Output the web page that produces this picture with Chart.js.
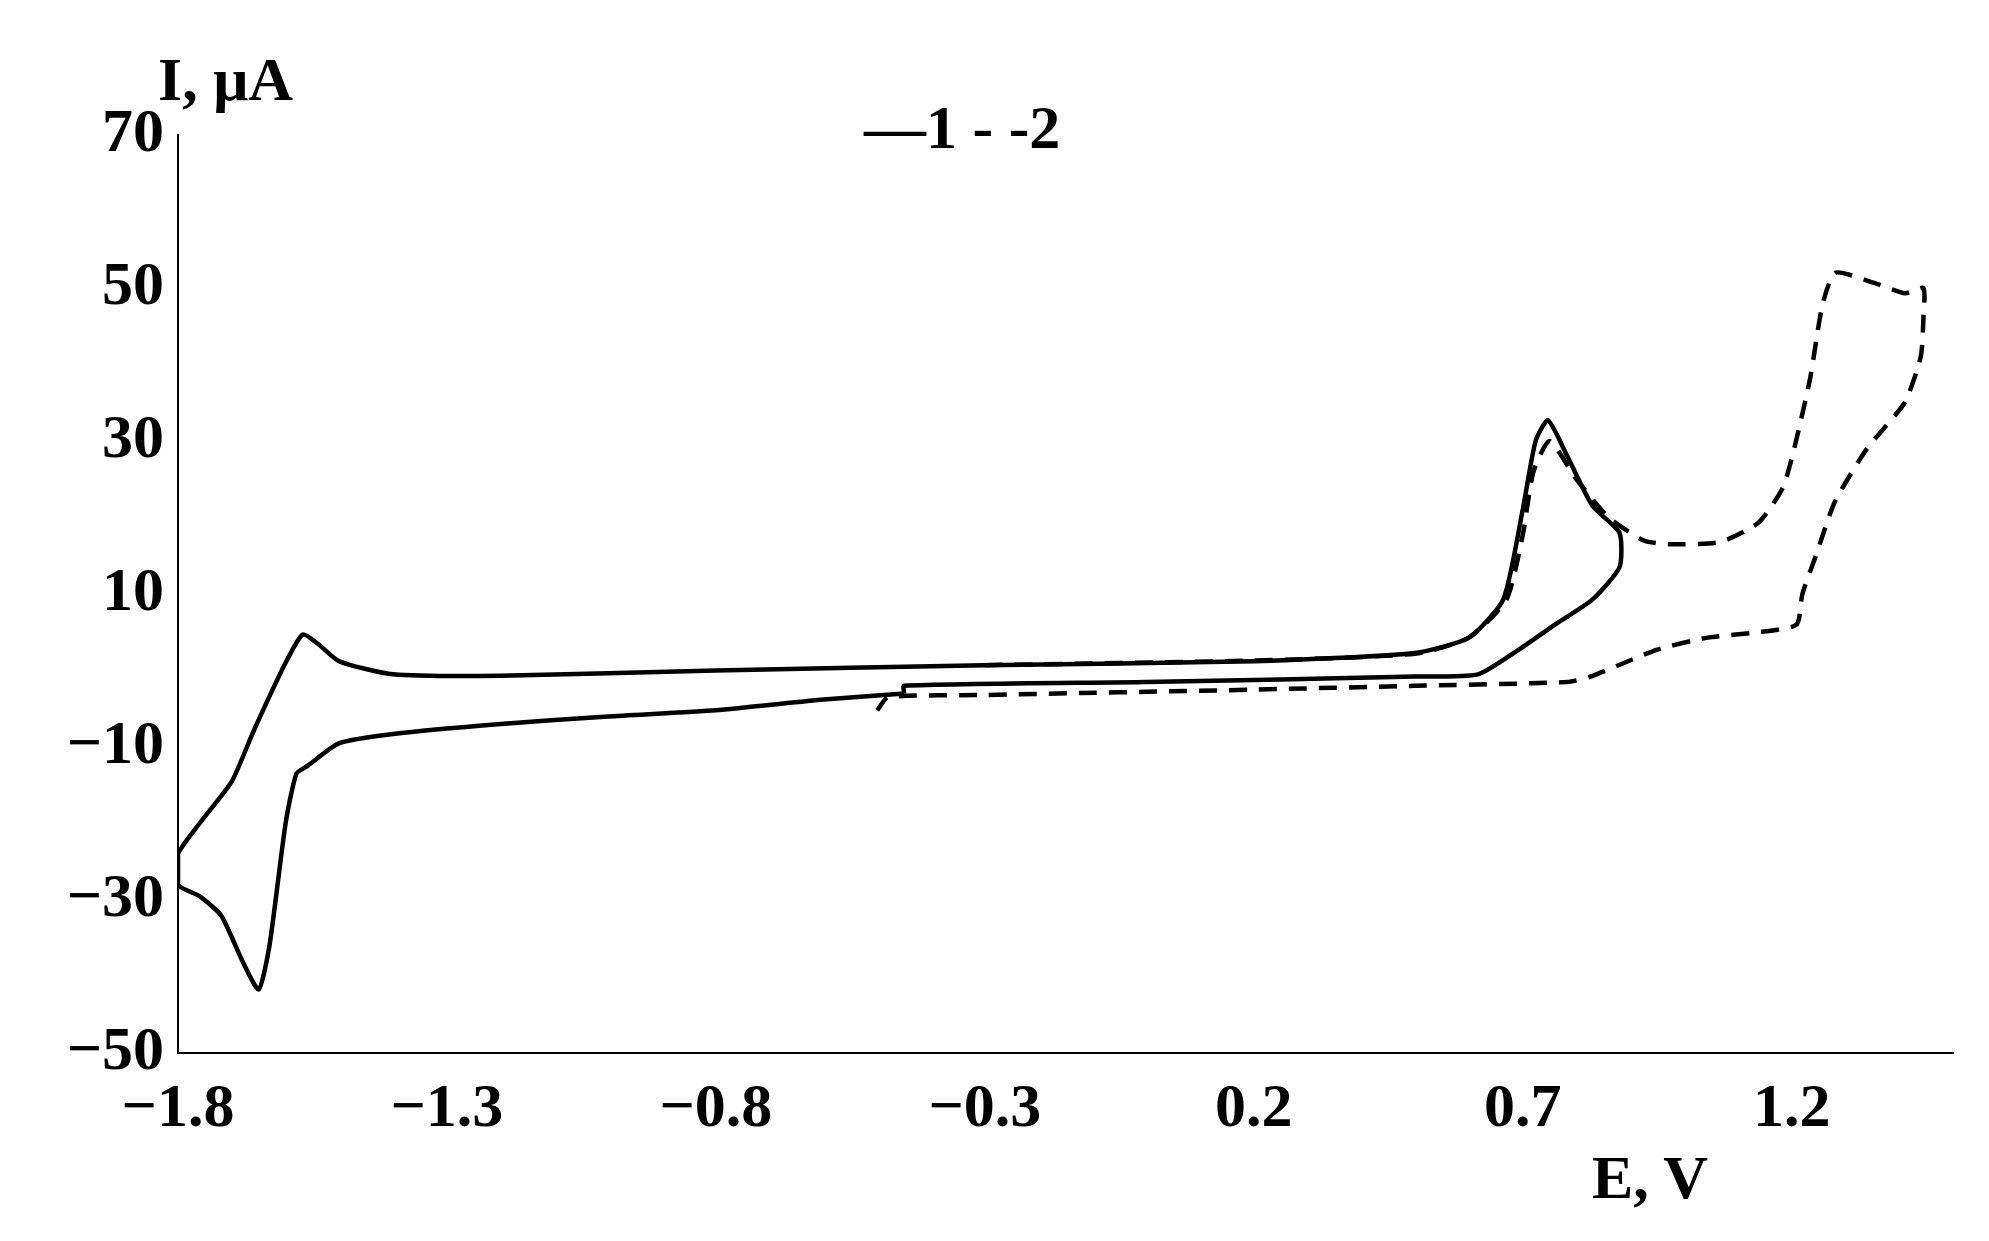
<!DOCTYPE html>
<html>
<head>
<meta charset="utf-8">
<script src="https://cdn.jsdelivr.net/npm/chart.js@4"></script>
<style>
  body { margin: 0; background: #fff; }
  #wrap { position: relative; width: 1989px; height: 1241px; }
  .lbl { position: absolute; font: bold 62px "Liberation Serif", serif; color: #000; white-space: nowrap; }
</style>
</head>
<body>
<div id="wrap">
  <canvas id="cv" width="1989" height="1241"></canvas>
  <div class="lbl" style="left:158px;top:44px">I, μA</div>
  <div class="lbl" style="left:1592px;top:1142px">E, V</div>
  <div class="lbl" style="left:864px;top:92px">—1 - -2</div>
</div>
<script>
// ==============================
// DATA (E in V, I in µA)
// ==============================
const xTicks = [-1.8, -1.3, -0.8, -0.3, 0.2, 0.7, 1.2];
const yTicks = [-50, -30, -10, 10, 30, 50, 70];

const curve1E = [-0.45, -0.6, -0.8, -1.0, -1.2, -1.4, -1.5, -1.56, -1.58, -1.6, -1.63, -1.65, -1.68, -1.72, -1.76, -1.8,
                 -1.8, -1.76, -1.7, -1.66, -1.6, -1.568, -1.54, -1.5, -1.4, -1.2, -0.8, -0.3, 0.2, 0.5, 0.6, 0.664, 0.7, 0.724, 0.747, 0.783, 0.83, 0.88,
                 0.88, 0.83, 0.76, 0.688, 0.617, 0.5, 0.0, -0.45, -0.45];
const curve1I = [-3, -3.8, -5.2, -6, -7, -8.3, -9.5, -12.5, -13.5, -20, -36, -41.7, -38, -32, -29.5, -28,
                 -24, -20, -14.5, -8, 1, 4.7, 3.5, 1.2, -0.5, -0.7, 0, 0.7, 1.2, 2.3, 4.3, 9.3, 21, 30, 32.7, 28, 21.5, 18,
                 13.5, 9.3, 6, 2.5, -0.5, -0.8, -1.5, -2, -3];

const curve2E = [-0.3, 0.2, 0.5, 0.6, 0.67, 0.7, 0.72, 0.75, 0.8, 0.86, 0.925, 0.972, 1.067, 1.138, 1.186, 1.233, 1.257, 1.281, 1.352, 1.411, 1.445,
                 1.445, 1.44, 1.41, 1.34, 1.28, 1.245, 1.22, 1.209, 1.138, 1.044, 0.949, 0.83, 0.783, 0.5, 0.2, -0.3, -0.48, -0.5];
const curve2I = [0.7, 1.3, 2.2, 4.3, 9.3, 17.7, 26, 30, 25, 20, 17, 16.5, 16.8, 19.3, 24.3, 37.7, 47.7, 52, 50.7, 49.3, 50,
                 46, 41, 35, 29, 22, 15, 10, 6, 5, 4.3, 2.7, -0.7, -1.5, -2, -2.5, -3.2, -3.5, -5.2];

const pts = (xs, ys) => xs.map((x, i) => ({ x: x, y: ys[i] }));

const tickFont = { family: "Liberation Serif", size: 62, weight: "bold" };
const fmt = v => (v < 0 ? "\u2212" + Math.abs(v) : String(v));

new Chart(document.getElementById("cv"), {
  type: "scatter",
  data: {
    datasets: [
      { label: "1", data: pts(curve1E, curve1I), showLine: true, borderColor: "#000", borderWidth: 4.5, pointRadius: 0, tension: 0.2 },
      { label: "2", data: pts(curve2E, curve2I), showLine: true, borderColor: "#000", borderWidth: 4.5, borderDash: [18, 12], pointRadius: 0, tension: 0.2 }
    ]
  },
  options: {
    responsive: false,
    animation: false,
    layout: { padding: { top: 135, right: 36, left: 0, bottom: 0 } },
    plugins: { legend: { display: false }, tooltip: { enabled: false } },
    scales: {
      x: {
        type: "linear", min: -1.8, max: 1.5,
        afterBuildTicks: a => { a.ticks = xTicks.map(v => ({ value: v })); },
        afterFit: a => { a.height = 188; },
        grid: { display: false, drawTicks: true, tickLength: 10, tickColor: "#000" },
        border: { color: "#000", width: 2 },
        ticks: { color: "#000", font: tickFont, maxRotation: 0, padding: 10, callback: v => fmt(Number(v.toFixed(1))) }
      },
      y: {
        type: "linear", min: -50, max: 70,
        afterBuildTicks: a => { a.ticks = yTicks.map(v => ({ value: v })); },
        afterFit: a => { a.width = 178; },
        grid: { display: false, drawTicks: true, tickLength: 10, tickColor: "#000" },
        border: { color: "#000", width: 2 },
        ticks: { color: "#000", font: tickFont, padding: 4, callback: v => fmt(v) }
      }
    }
  }
});
</script>
</body>
</html>
